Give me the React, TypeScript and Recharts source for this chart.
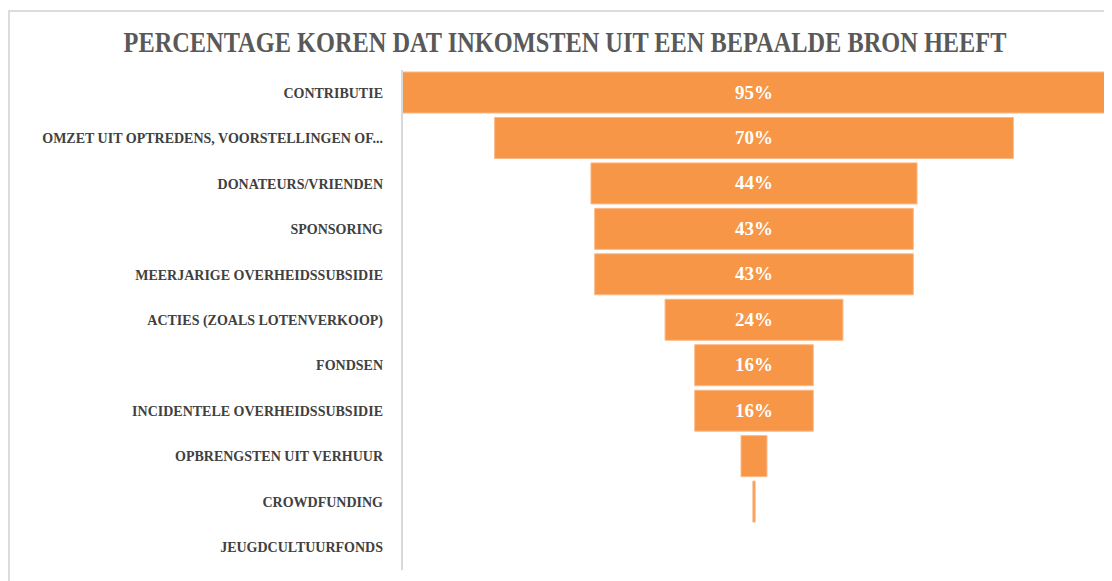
import React from "react";
import { BarChart, Bar, XAxis, YAxis, LabelList } from "recharts";

const categories = [
  "CONTRIBUTIE",
  "OMZET UIT OPTREDENS, VOORSTELLINGEN OF...",
  "DONATEURS/VRIENDEN",
  "SPONSORING",
  "MEERJARIGE OVERHEIDSSUBSIDIE",
  "ACTIES (ZOALS LOTENVERKOOP)",
  "FONDSEN",
  "INCIDENTELE OVERHEIDSSUBSIDIE",
  "OPBRENGSTEN UIT VERHUUR",
  "CROWDFUNDING",
  "JEUGDCULTUURFONDS",
];
const values = [95, 70, 44, 43, 43, 24, 16, 16, 3.5, 0.3, 0];
const maxValue = 95;
const title = "PERCENTAGE KOREN DAT INKOMSTEN UIT EEN BEPAALDE BRON HEEFT";

const data = categories.map((name, i) => ({
  name,
  value: values[i],
  pad: (maxValue - values[i]) / 2,
}));

const SERIF = "'Liberation Serif', 'DejaVu Serif', serif";

const Tick = (props: any) => {
  const { x, y, payload } = props;
  return (
    <text
      x={x}
      y={y}
      dy={5}
      textAnchor="end"
      fill="#404040"
      fontFamily={SERIF}
      fontWeight="bold"
      fontSize={14}
    >
      {payload.value}
    </text>
  );
};

const renderLabel = (props: any) => {
  const { x, y, width, height, value } = props;
  if (value < 10) return null;
  return (
    <text
      x={x + width / 2}
      y={y + height / 2}
      dy={6}
      textAnchor="middle"
      fill="#ffffff"
      fontFamily={SERIF}
      fontWeight="bold"
      fontSize={19}
    >
      {`${Math.round(value)}%`}
    </text>
  );
};

export default function App() {
  return (
    <div style={{ position: "relative", width: 1104, height: 573 }}>
      <div
        style={{
          position: "absolute",
          left: 0,
          top: 2,
          width: 1104,
          height: 571,
          borderTop: "2px solid #dcdcdc",
          borderLeft: "2px solid #dcdcdc",
          boxSizing: "border-box",
        }}
      />
      <div
        style={{
          position: "absolute",
          left: 0,
          top: 17,
          width: 1114,
          textAlign: "center",
          fontFamily: SERIF,
          fontWeight: "bold",
          fontSize: 29,
          lineHeight: "34px",
          color: "#595959",
          whiteSpace: "nowrap",
          transform: "scaleX(0.84)",
          transformOrigin: "557px 0",
        }}
      >
        {title}
      </div>
      <div style={{ position: "absolute", left: 0, top: 0 }}>
        <BarChart
          width={1104}
          height={573}
          data={data}
          layout="vertical"
          margin={{ top: 62, right: 6, bottom: 11, left: 0 }}
          barCategoryGap={2}
        >
          <XAxis type="number" hide domain={[0, maxValue]} />
          <YAxis
            type="category"
            dataKey="name"
            width={394}
            tickLine={false}
            tickSize={0}
            tickMargin={19}
            axisLine={{ stroke: "#d9d9d9", strokeWidth: 2 }}
            tick={<Tick />}
            interval={0}
          />
          <Bar dataKey="pad" stackId="a" fill="transparent" isAnimationActive={false} />
          <Bar
            dataKey="value"
            stackId="a"
            fill="#F79646"
            stroke="#fbb887"
            strokeWidth={1}
            isAnimationActive={false}
          >
            <LabelList dataKey="value" content={renderLabel} />
          </Bar>
        </BarChart>
      </div>
    </div>
  );
}
